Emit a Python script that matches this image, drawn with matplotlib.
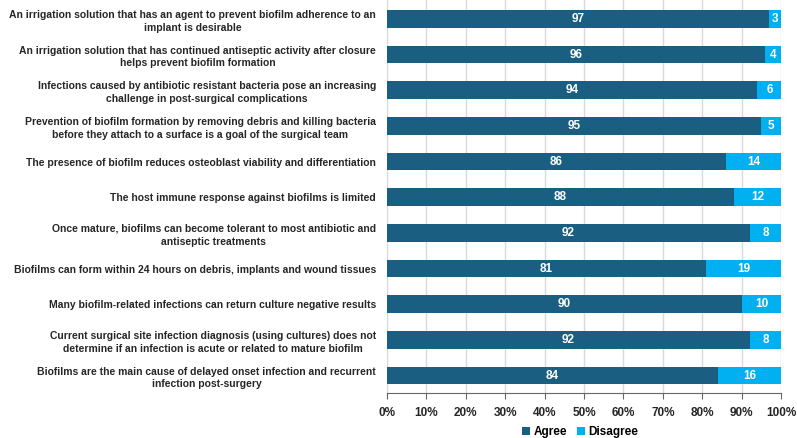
import matplotlib.pyplot as plt
from matplotlib.ticker import PercentFormatter

# ── Data ────────────────────────────────────────────────────────────────
statements = [
    "An irrigation solution that has an agent to prevent biofilm adherence to an\nimplant is desirable",
    "An irrigation solution that has continued antiseptic activity after closure\nhelps prevent biofilm formation",
    "Infections caused by antibiotic resistant bacteria pose an increasing\nchallenge in post-surgical complications",
    "Prevention of biofilm formation by removing debris and killing bacteria\nbefore they attach to a surface is a goal of the surgical team",
    "The presence of biofilm reduces osteoblast viability and differentiation",
    "The host immune response against biofilms is limited",
    "Once mature, biofilms can become tolerant to most antibiotic and\nantiseptic treatments",
    "Biofilms can form within 24 hours on debris, implants and wound tissues",
    "Many biofilm-related infections can return culture negative results",
    "Current surgical site infection diagnosis (using cultures) does not\ndetermine if an infection is acute or related to mature biofilm",
    "Biofilms are the main cause of delayed onset infection and recurrent\ninfection post-surgery",
]
agree = [97, 96, 94, 95, 86, 88, 92, 81, 90, 92, 84]
disagree = [3, 4, 6, 5, 14, 12, 8, 19, 10, 8, 16]

AGREE_COL = "#1a5f82"
DISAGREE_COL = "#00b0f0"

plt.rcParams["font.family"] = ["Liberation Sans", "DejaVu Sans"]
plt.rcParams["font.weight"] = "bold"

fig = plt.figure(figsize=(7.97, 4.38), dpi=100)
ax = fig.add_axes([0.4856, 0.1027, 0.4945, 0.8973])

y = list(range(len(statements)))
ax.barh(y, agree, height=0.5, color=AGREE_COL, label="Agree", zorder=3)
ax.barh(y, disagree, left=agree, height=0.5, color=DISAGREE_COL,
        label="Disagree", zorder=3)

# value labels inside segments
for i in y:
    ax.text(agree[i] / 2, i, str(agree[i]), ha="center", va="center",
            color="white", fontsize=8.5, fontweight="bold", zorder=4)
    ax.text(agree[i] + disagree[i] / 2, i, str(disagree[i]), ha="center",
            va="center", color="white", fontsize=8.5, fontweight="bold", zorder=4)

ax.set_xlim(0, 100)
ax.set_ylim(10.49, -0.53)
ax.set_xticks(range(0, 101, 10))
ax.xaxis.set_major_formatter(PercentFormatter(decimals=0))
ax.set_yticks(y)
ax.set_yticklabels(statements, fontsize=7.5, fontweight="bold",
                   multialignment="center", color="#262626", linespacing=1.35)
ax.tick_params(axis="y", length=0, pad=8)
ax.tick_params(axis="x", length=4, color="#666666", labelsize=8.5, pad=6)
for lbl in ax.get_xticklabels():
    lbl.set_fontweight("bold")
    lbl.set_color("#262626")

ax.grid(axis="x", color="#d9d9d9", linewidth=1, zorder=0)
for side in ["top", "right", "left"]:
    ax.spines[side].set_visible(False)
ax.spines["bottom"].set_color("#666666")

fig.legend(*ax.get_legend_handles_labels(), loc="lower center",
           bbox_to_anchor=(0.728, -0.025), ncol=2, frameon=False, fontsize=8.5,
           handlelength=0.7, handleheight=0.7, columnspacing=0.8,
           handletextpad=0.3)

plt.savefig("out.png", dpi=100)
